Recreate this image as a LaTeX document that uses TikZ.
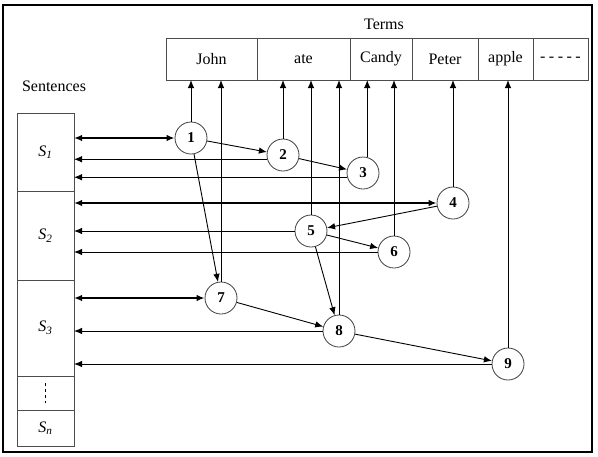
\documentclass[tikz,border=0pt]{standalone}
\usepackage{fontspec}
\setmainfont{Liberation Serif}
\usetikzlibrary{positioning,arrows.meta}

\begin{document}
\begin{tikzpicture}[x=1pt,y=-1pt,
  font=\fontsize{16}{19}\selectfont,
  >={Latex[length=8pt,width=6.5pt]},
  term/.style={draw=black!70,line width=0.8pt,minimum height=42pt,inner sep=0pt,outer sep=0pt},
  sent/.style={draw=black!70,line width=0.8pt,minimum width=57pt,inner sep=0pt,outer sep=0pt},
  num/.style={circle,draw=black!75,fill=white,line width=0.8pt,minimum size=32pt,inner sep=0pt,font=\fontsize{15}{17}\selectfont\bfseries},
  link/.style={->,line width=0.9pt},
  pair/.style={<->,line width=1.8pt}]
\useasboundingbox (0,0) rectangle (598,456);
\draw[line width=2.2pt] (3,5) rectangle (592,452);

% terms row
\node (termlbl) at (384,24) {Terms};
\node[term,minimum width=91pt] (john) at (211.5,59) {John};
\node[term,minimum width=93pt,right=0pt of john] (ate) {ate};
\node[term,minimum width=62pt,right=0pt of ate] (candy) {Candy};
\node[term,minimum width=66pt,right=0pt of candy] (peter) {Peter};
\node[term,minimum width=55pt,right=0pt of peter] (apple) {apple};
\node[term,minimum width=55pt,right=0pt of apple] (more) {-\hspace{3.5pt}-\hspace{3.5pt}-\hspace{3.5pt}-\hspace{3.5pt}-};

% sentences column
\node (sentlbl) at (54,86) {Sentences};
\node[sent,minimum height=78pt] (s1) at (45.5,152) {\textit{S\textsubscript{1}}};
\node[sent,minimum height=89pt,below=0pt of s1] (s2) {\textit{S\textsubscript{2}}};
\node[sent,minimum height=96pt,below=0pt of s2] (s3) {\textit{S\textsubscript{3}}};
\node[sent,minimum height=34pt,below=0pt of s3] (sd) {};
\node[sent,minimum height=36pt,below=0pt of sd] (sn) {\textit{S\textsubscript{n}}};
\draw[dashed,line width=0.8pt] ([yshift=-7pt]sd.north) -- ([yshift=7pt]sd.south);

% numbered nodes
\node[num] (c1) at (191,138) {1};
\node[num] (c2) at (283,155) {2};
\node[num] (c3) at (363,173) {3};
\node[num] (c4) at (453,203) {4};
\node[num] (c5) at (311,231) {5};
\node[num] (c6) at (394,252) {6};
\node[num] (c7) at (221,298) {7};
\node[num] (c8) at (339,331) {8};
\node[num] (c9) at (508,364) {9};

% links to sentences
\draw[pair] (s1.east |- c1.west) -- (c1.west);
\draw[link] (c2.195) -- (c2.195 -| s1.east);
\draw[link] (c3.195) -- (c3.195 -| s1.east);
\draw[pair] (s2.east |- c4.west) -- (c4.west);
\draw[link] (c5.west) -- (c5.west -| s2.east);
\draw[link] (c6.west) -- (c6.west -| s2.east);
\draw[pair] (s3.east |- c7.west) -- (c7.west);
\draw[link] (c8.west) -- (c8.west -| s3.east);
\draw[link] (c9.west) -- (c9.west -| s3.east);

% links to terms
\draw[link] (c1.north) -- (c1.north |- john.south);
\draw[link] (c7.north) -- (c7.north |- john.south);
\draw[link] (c2.north) -- (c2.north |- ate.south);
\draw[link] (c5.north) -- (c5.north |- ate.south);
\draw[link] (c8.north) -- (c8.north |- ate.south);
\draw[link] (c3.75) -- (c3.75 |- candy.south);
\draw[link] (c6.north) -- (c6.north |- candy.south);
\draw[link] (c4.north) -- (c4.north |- peter.south);
\draw[link] (c9.north) -- (c9.north |- apple.south);

% links between nodes
\draw[link] (c1) -- (c2);
\draw[link] (c2) -- (c3);
\draw[link] (c1) -- (c7);
\draw[link] (c4) -- (c5);
\draw[link] (c5) -- (c6);
\draw[link] (c5) -- (c8);
\draw[link] (c7) -- (c8);
\draw[link] (c8) -- (c9);
\end{tikzpicture}
\end{document}
